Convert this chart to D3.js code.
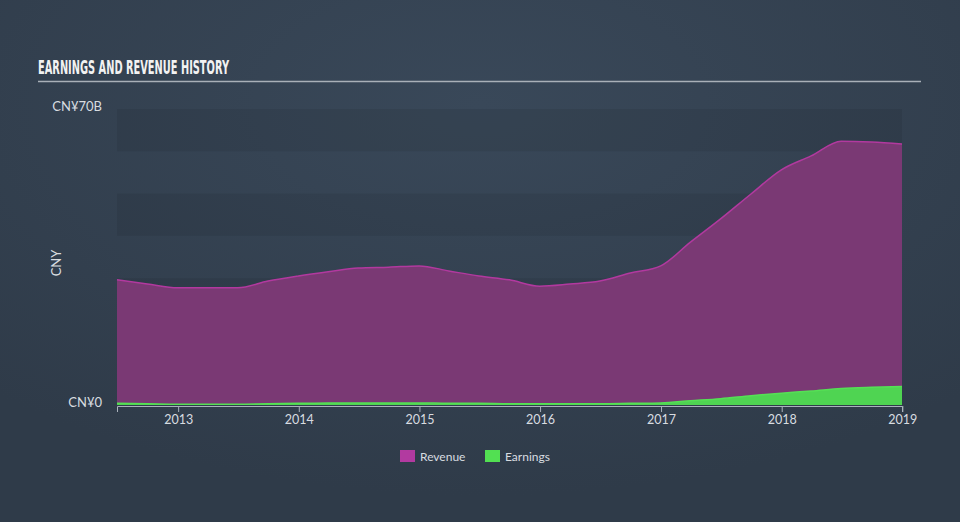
<!DOCTYPE html>
<html><head><meta charset="utf-8">
<script src="https://cdn.jsdelivr.net/npm/d3@7"></script>
<style>
html,body{margin:0;padding:0;background:#333f4e;}
svg{display:block;}
</style></head>
<body>
<svg id="c" width="960" height="522"></svg>
<script>
const dates = ["2012-06-30","2012-09-30","2012-12-31","2013-03-31","2013-06-30","2013-09-30","2013-12-31",
"2014-03-31","2014-06-30","2014-09-30","2014-12-31","2015-03-31","2015-06-30","2015-09-30","2015-12-31",
"2016-03-31","2016-06-30","2016-09-30","2016-12-31","2017-03-31","2017-06-30","2017-09-30","2017-12-31",
"2018-03-31","2018-06-30","2018-09-30","2018-12-31"];
const revenue = [29.6,28.6,27.7,27.7,27.7,29.3,30.5,31.5,32.4,32.6,32.9,31.7,30.5,29.6,28.1,28.6,29.3,31.2,32.9,38.5,44.0,49.9,55.6,58.9,62.4,62.2,61.7];
const earnings = [0.4,0.3,0.2,0.2,0.2,0.3,0.4,0.5,0.5,0.5,0.5,0.4,0.4,0.3,0.3,0.3,0.3,0.4,0.5,1.0,1.5,2.2,2.8,3.3,3.9,4.2,4.4];
const yearTicks = ["2013","2014","2015","2016","2017","2018","2019"];
const yTickLabels = ["CN¥0","CN¥70B"];
const yTickValues = [0,70];
const legendItems = ["Revenue","Earnings"];

const svg = d3.select("#c");
const W=960,H=522;
const defs = svg.append("defs");
const rg = defs.append("radialGradient").attr("id","bg").attr("cx","50%").attr("cy","20%").attr("r","75%");
rg.append("stop").attr("offset","0%").attr("stop-color","#394859");
rg.append("stop").attr("offset","100%").attr("stop-color","#2f3b49");
svg.append("rect").attr("width",W).attr("height",H).attr("fill","url(#bg)");

const parse = d3.timeParse("%Y-%m-%d");
const data = dates.map((d,i)=>({date:parse(d),rev:revenue[i],earn:earnings[i]}));
const x0=117,x1=902,yTop=109,yBot=405;
const x = d3.scaleTime().domain([data[0].date,data[data.length-1].date]).range([x0,x1]);
const y = d3.scaleLinear().domain([0,70]).range([yBot,yTop]);

// bands
const bands = d3.range(0,70,10);
svg.append("g").selectAll("rect").data(bands).join("rect")
  .attr("x",x0).attr("width",x1-x0)
  .attr("y",d=>y(d+10)).attr("height",d=>y(d)-y(d+10))
  .attr("fill",d=>(d/10)%2===0?"rgba(0,0,0,0.07)":"rgba(255,255,255,0.0)");

// title
svg.append("text").attr("x",38).attr("y",74).text("EARNINGS AND REVENUE HISTORY")
  .attr("font-family","'Liberation Sans Narrow', 'DejaVu Sans Condensed', sans-serif")
  .attr("font-weight","bold").attr("font-size",20).attr("fill","#f2f2f2")
  .attr("textLength",191).attr("lengthAdjust","spacingAndGlyphs");
svg.append("line").attr("x1",38).attr("x2",921).attr("y1",81.5).attr("y2",81.5)
  .attr("stroke","#a9b0b8").attr("stroke-width",1.5);

const curve = d3.curveMonotoneX;
const areaRev = d3.area().x(d=>x(d.date)).y0(y(0)).y1(d=>y(d.rev)).curve(curve);
const lineRev = d3.line().x(d=>x(d.date)).y(d=>y(d.rev)).curve(curve);
svg.append("path").datum(data).attr("d",areaRev).attr("fill","#7a3974");
svg.append("path").datum(data).attr("d",lineRev).attr("fill","none").attr("stroke","#b2399f").attr("stroke-width",1.5);
const areaE = d3.area().x(d=>x(d.date)).y0(y(0)).y1(d=>y(d.earn)).curve(curve);
const lineE = d3.line().x(d=>x(d.date)).y(d=>y(d.earn)).curve(curve);
svg.append("path").datum(data).attr("d",areaE).attr("fill","#4fd452");
svg.append("path").datum(data).attr("d",lineE).attr("fill","none").attr("stroke","#55e055").attr("stroke-width",1.5);

// x axis
const xTickDates = yearTicks.map(t=>parse(t+"-01-01"));
const gx = svg.append("g").attr("transform",`translate(0,${yBot+1})`)
  .call(d3.axisBottom(x).tickValues(xTickDates).tickFormat((d,i)=>yearTicks[i]).tickSize(6).tickPadding(3));
gx.select(".domain").attr("stroke","#aab2bc").attr("stroke-width",1);
gx.selectAll(".tick line").attr("stroke","#aab2bc");
gx.selectAll("text").attr("fill","#d8dce0").attr("font-family","Lato, 'Open Sans', sans-serif").attr("font-size",12.5);

// y labels
svg.append("g").selectAll("text").data(yTickValues).join("text")
  .attr("x",102).attr("y",d=>y(d)+2).attr("text-anchor","end")
  .attr("font-family","Lato, 'Open Sans', sans-serif").attr("font-size",13).attr("fill","#d8dce0")
  .text((d,i)=>yTickLabels[i]);
svg.append("text").attr("transform","translate(61,263) rotate(-90)").attr("text-anchor","middle")
  .attr("font-family","Lato, 'Open Sans', sans-serif").attr("font-size",13).attr("fill","#d8dce0").text("CNY");

// legend
const legColors = ["#b23aa0","#52e052"];
const legX = [400,485];
const lg = svg.append("g").selectAll("g").data(legendItems).join("g")
  .attr("transform",(d,i)=>`translate(${legX[i]},450)`);
lg.append("rect").attr("width",15).attr("height",12).attr("fill",(d,i)=>legColors[i]);
lg.append("text").attr("x",20).attr("y",10.5).text(d=>d)
  .attr("font-family","Lato, 'Open Sans', sans-serif").attr("font-size",12).attr("fill","#d8dce0");
</script>
</body></html>
